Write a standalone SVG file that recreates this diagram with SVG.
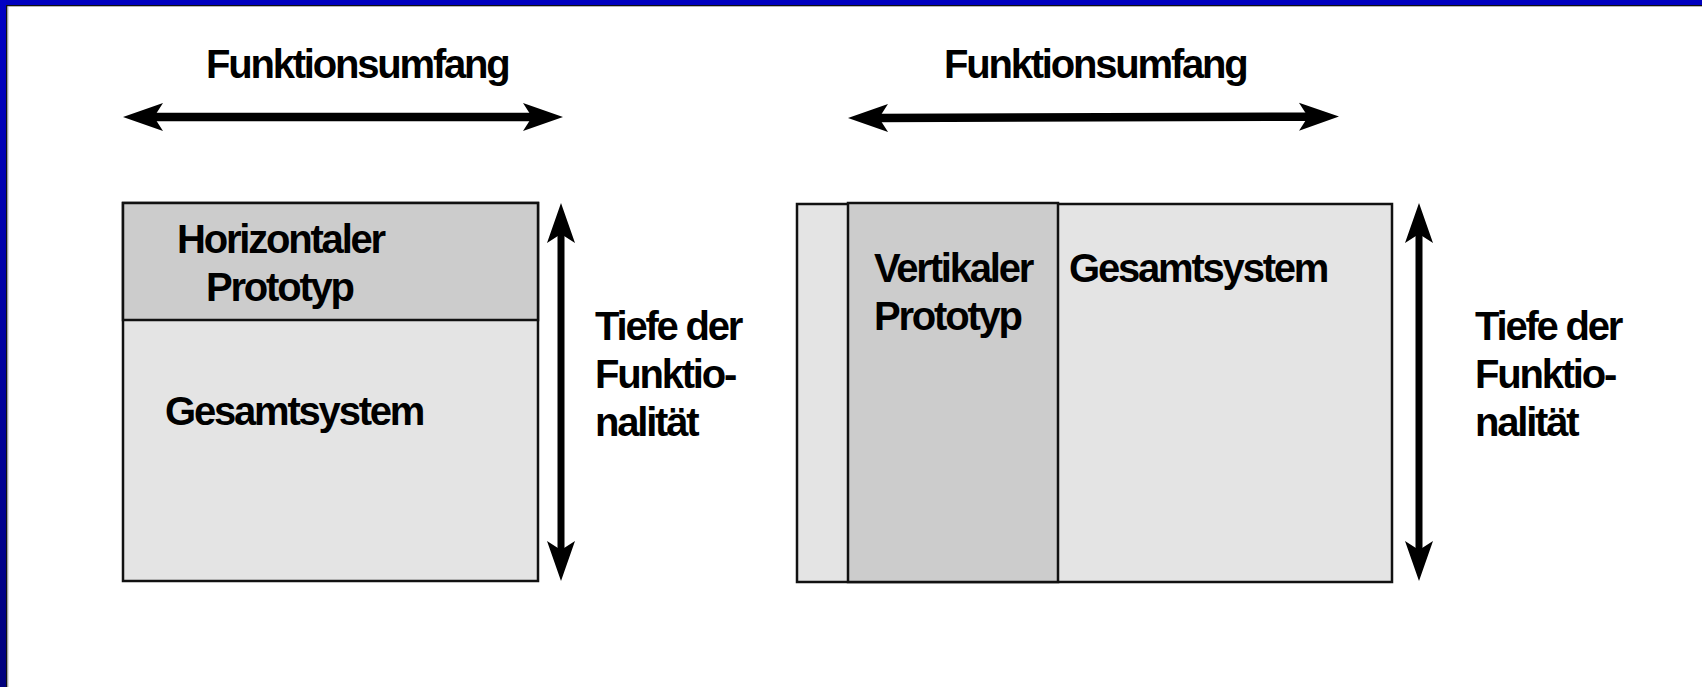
<svg xmlns="http://www.w3.org/2000/svg" width="1702" height="687" viewBox="0 0 1702 687">
  <defs>
    <linearGradient id="edgeFade" x1="0" y1="0" x2="0" y2="1">
      <stop offset="0" stop-color="#0000C4"/>
      <stop offset="1" stop-color="#00007C"/>
    </linearGradient>
    <!-- concave arrowhead; refX sits at the notch so the shaft tucks in -->
    <marker id="head" markerUnits="userSpaceOnUse" markerWidth="42" markerHeight="30" viewBox="0 -15 42 30" refX="10" refY="0" orient="auto-start-reverse" overflow="visible">
      <path d="M0,-14 L40,0 L0,14 L9,0 Z" fill="#000"/>
    </marker>
    <style>
      .lbl { font-family: "Liberation Sans", Arial, sans-serif; font-weight: bold; font-size: 40px; letter-spacing: -2.2px; fill: #000; }
      .box { stroke: #111; stroke-width: 2.5; }
      .sys { fill: #E4E4E4; }
      .proto { fill: #CCCCCC; }
      .dim { stroke: #000; fill: none; marker-start: url(#head); marker-end: url(#head); }
      .h { stroke-width: 8.5; }
      .v { stroke-width: 7; }
    </style>
  </defs>

  <!-- page background and slide frame -->
  <rect x="0" y="0" width="1702" height="687" fill="#FFFFFF"/>
  <rect x="0" y="0" width="1702" height="5" fill="#0000C0"/>
  <rect x="0" y="0" width="6" height="687" fill="url(#edgeFade)"/>
  <rect x="6" y="5" width="1696" height="1.3" fill="#111"/>
  <rect x="6" y="5" width="1.5" height="682" fill="#111"/>
  <rect x="7.5" y="6.3" width="1" height="681" fill="#BBBBBB"/>

  <!-- left: horizontal prototype -->
  <g id="horizontal-system">
    <rect class="box sys" x="123" y="203" width="415" height="378"/>
    <text class="lbl" x="165" y="425">Gesamtsystem</text>
  </g>
  <g id="horizontal-prototype">
    <rect class="box proto" x="123" y="203" width="415" height="117"/>
    <text class="lbl" x="177" y="253">Horizontaler</text>
    <text class="lbl" x="206" y="301">Prototyp</text>
  </g>
  <g id="left-scope-label">
    <text class="lbl" x="206" y="78">Funktionsumfang</text>
  </g>
  <g id="left-depth-label">
    <text class="lbl" x="595" y="340">Tiefe der</text>
    <text class="lbl" x="595" y="388">Funktio-</text>
    <text class="lbl" x="595" y="436">nalität</text>
  </g>

  <!-- right: vertical prototype -->
  <g id="vertical-system">
    <rect class="box sys" x="797" y="204" width="595" height="378"/>
    <text class="lbl" x="1069" y="282">Gesamtsystem</text>
  </g>
  <g id="vertical-prototype">
    <rect class="box proto" x="848" y="203" width="210" height="379"/>
    <text class="lbl" x="874" y="282">Vertikaler</text>
    <text class="lbl" x="874" y="330">Prototyp</text>
  </g>
  <g id="right-scope-label">
    <text class="lbl" x="944" y="78">Funktionsumfang</text>
  </g>
  <g id="right-depth-label">
    <text class="lbl" x="1475" y="340">Tiefe der</text>
    <text class="lbl" x="1475" y="388">Funktio-</text>
    <text class="lbl" x="1475" y="436">nalität</text>
  </g>

  <!-- dimension arrows -->
  <g id="connectors">
    <line class="dim h" x1="153" y1="117" x2="533" y2="117"/>
    <line class="dim h" x1="878" y1="118" x2="1309" y2="116.7"/>
    <line class="dim v" x1="561" y1="233" x2="561" y2="551"/>
    <line class="dim v" x1="1419" y1="233" x2="1419" y2="551"/>
  </g>
</svg>
